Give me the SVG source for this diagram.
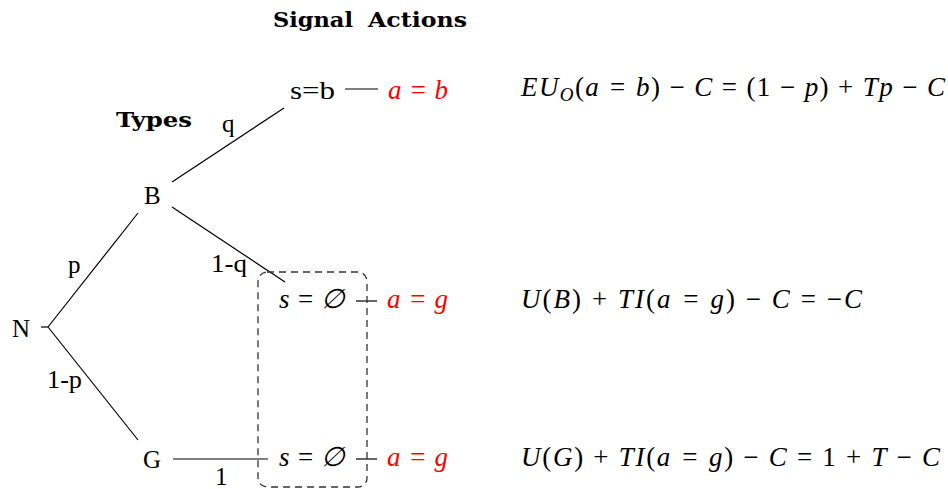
<svg xmlns="http://www.w3.org/2000/svg" width="948" height="489" viewBox="0 0 948 489">
<style>
text{font-family:"Liberation Serif","DejaVu Serif",serif;fill:#000;}
.t{font-size:25px;}
.h{font-family:"DejaVu Serif",serif;font-size:21px;font-weight:bold;}
.m{font-size:27px;font-style:italic;}
.r{fill:#ff0000;}
.up{font-style:normal;}
.e{stroke:#000;stroke-width:1.2;fill:none;}
.box{stroke:#333;stroke-width:1.3;fill:none;stroke-dasharray:7,5;}
</style>
<rect width="948" height="489" fill="#fff"/>
<g id="headers">
<text class="h" y="27"><tspan x="273" textLength="80" lengthAdjust="spacingAndGlyphs">Signal</tspan><tspan x="368" textLength="99" lengthAdjust="spacingAndGlyphs">Actions</tspan></text>
<text class="h" x="116" y="127" textLength="76" lengthAdjust="spacingAndGlyphs">Types</text>
</g>
<g id="connectors">
<line class="e" x1="41" y1="327" x2="48" y2="327"/>
<line class="e" x1="48" y1="327" x2="138" y2="213"/>
<line class="e" x1="48" y1="327" x2="138" y2="440"/>
<line class="e" x1="172" y1="182" x2="284" y2="108"/>
<line class="e" x1="172" y1="207" x2="285" y2="282"/>
<line class="e" x1="173" y1="459" x2="268" y2="459"/>
<line class="e" x1="345" y1="89" x2="378" y2="89"/>
<line class="e" x1="356" y1="301" x2="377" y2="301"/>
<line class="e" x1="356" y1="459" x2="377" y2="459"/>
<text class="t" x="68" y="273">p</text>
<text class="t" x="47" y="388" textLength="35" lengthAdjust="spacingAndGlyphs">1-p</text>
<text class="t" x="222" y="132">q</text>
<text class="t" x="211" y="272" textLength="36" lengthAdjust="spacingAndGlyphs">1-q</text>
<text class="t" x="215" y="485">1</text>
</g>
<g id="info-set">
<rect class="box" x="258" y="272" width="109" height="215" rx="9"/>
</g>
<g id="N"><text class="t" x="12" y="337">N</text></g>
<g id="B"><text class="t" x="144" y="204">B</text></g>
<g id="G"><text class="t" x="143" y="468">G</text></g>
<g id="sb"><text class="t" x="290" y="99" textLength="45" lengthAdjust="spacingAndGlyphs">s=b</text></g>
<g id="s0B"><text class="m" x="279" y="308" textLength="66" lengthAdjust="spacing">s = ∅</text></g>
<g id="s0G"><text class="m" x="279" y="466" textLength="66" lengthAdjust="spacing">s = ∅</text></g>
<g id="ab"><text class="m r" x="388" y="99" textLength="60" lengthAdjust="spacing">a = b</text></g>
<g id="agB"><text class="m r" x="387" y="308" textLength="61" lengthAdjust="spacing">a = g</text></g>
<g id="agG"><text class="m r" x="387" y="466" textLength="61" lengthAdjust="spacing">a = g</text></g>
<g id="eq1"><text class="m" x="521" y="96" textLength="424" lengthAdjust="spacing">EU<tspan font-size="19" dy="5">O</tspan><tspan class="up" dy="-5">(</tspan>a = b<tspan class="up">) − </tspan>C<tspan class="up"> = (1 − </tspan>p<tspan class="up">) + </tspan>Tp<tspan class="up"> − </tspan>C</text></g>
<g id="eq2"><text class="m" x="521" y="308" textLength="341" lengthAdjust="spacing">U<tspan class="up">(</tspan>B<tspan class="up">) + </tspan>TI<tspan class="up">(</tspan>a = g<tspan class="up">) − </tspan>C<tspan class="up"> = −</tspan>C</text></g>
<g id="eq3"><text class="m" x="521" y="466" textLength="419" lengthAdjust="spacing">U<tspan class="up">(</tspan>G<tspan class="up">) + </tspan>TI<tspan class="up">(</tspan>a = g<tspan class="up">) − </tspan>C<tspan class="up"> = 1 + </tspan>T<tspan class="up"> − </tspan>C</text></g>
</svg>
